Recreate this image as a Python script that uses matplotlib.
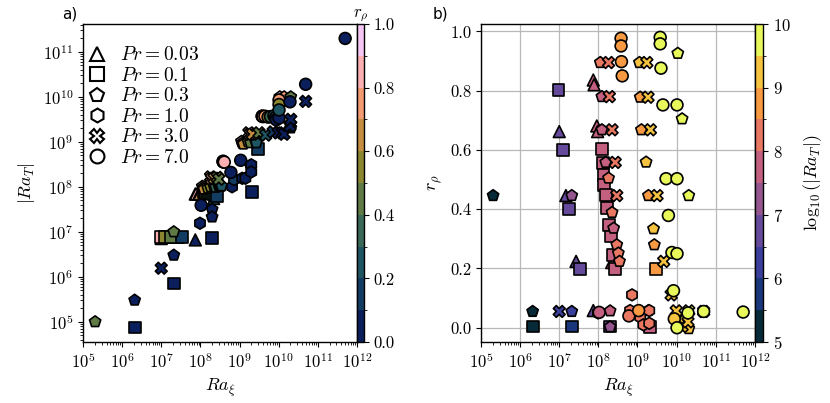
import numpy as np
import matplotlib
matplotlib.use("Agg")
import matplotlib.pyplot as plt
from matplotlib.colors import ListedColormap, BoundaryNorm
from matplotlib.lines import Line2D
from matplotlib.ticker import LogLocator, NullFormatter, FixedLocator

plt.rcParams['mathtext.fontset'] = 'cm'
plt.rcParams['font.family'] = 'serif'
plt.rcParams['font.serif'] = ['cmr10', 'DejaVu Serif']
plt.rcParams['axes.formatter.use_mathtext'] = True
plt.rcParams['axes.unicode_minus'] = False

# data: log10(Ra_xi), r_rho, log10(|Ra_T|) for each Prandtl number
pr_labels = ['0.03', '0.1', '0.3', '1.0', '3.0', '7.0']
pr_markers = ['^', 's', 'p', 'h', 'X', 'o']

# Pr = 0.03
lx_003 = [7.00, 7.17, 7.43, 7.87, 7.87, 7.89, 7.96, 7.98, 8.34]
r_003 = [0.662, 0.446, 0.224, 0.058, 0.836, 0.820, 0.681, 0.662, 0.220]
lt_003 = [6.85, 6.88, 6.88, 6.82, 7.84, 7.84, 7.84, 7.84, 7.74]

# Pr = 0.1
lx_01 = [6.32, 7.32, 8.30, 9.31, 6.98, 7.09, 7.25, 7.53, 8.09, 8.11, 8.13,
         8.15, 8.20, 8.22, 8.28, 8.33, 8.38, 8.42, 9.48]
r_01 = [0.004, 0.004, 0.004, 0.002, 0.803, 0.600, 0.400, 0.199, 0.604, 0.555,
        0.516, 0.482, 0.449, 0.404, 0.347, 0.308, 0.246, 0.198, 0.198]
lt_01 = [4.87, 5.85, 6.87, 7.88, 6.88, 6.88, 6.88, 6.88, 7.88, 7.88, 7.87,
         7.87, 7.87, 7.86, 7.85, 7.84, 7.82, 7.80, 8.84]

# Pr = 0.3
lx_03 = [5.31, 6.32, 7.32, 7.32, 8.30, 8.30, 8.05, 8.09, 8.09, 8.19, 8.26,
         8.35, 8.39, 8.47, 8.51, 8.54, 9.28, 9.05, 9.07, 9.10, 9.22, 9.28,
         9.41, 9.43, 10.03, 10.14, 10.31, 10.31]
r_03 = [0.446, 0.055, 0.055, 0.446, 0.057, 0.003, 0.895, 0.780, 0.668, 0.558,
        0.505, 0.389, 0.336, 0.280, 0.252, 0.224, 0.058, 0.895, 0.778, 0.668,
        0.559, 0.446, 0.334, 0.280, 0.926, 0.705, 0.446, -0.003]
lt_03 = [5.00, 5.48, 6.48, 7.00, 7.50, 7.33, 8.01, 7.99, 7.95, 7.97, 8.00,
         8.00, 7.99, 8.02, 8.01, 8.02, 8.47, 9.01, 8.97, 8.95, 9.00, 8.98,
         9.01, 8.98, 10.00, 10.00, 10.00, 9.31]

# Pr = 1.0
lx_1 = [7.99, 8.81, 8.86, 9.07, 9.15, 9.30, 9.30]
r_1 = [0.050, 0.058, 0.111, 0.036, 0.010, 0.058, 0.015]
lt_1 = [7.19, 8.00, 8.16, 8.19, 8.19, 8.49, 8.33]

# Pr = 3.0
lx_3 = [7.00, 8.26, 8.28, 8.35, 8.43, 8.47, 9.24, 9.27, 9.33, 9.50, 9.67,
        9.86, 9.99, 10.09, 10.14, 10.29, 10.31, 10.69]
r_3 = [0.055, 0.895, 0.780, 0.668, 0.558, 0.446, 0.895, 0.778, 0.668, 0.446,
       0.224, 0.111, 0.057, 0.025, 0.004, 0.020, 0.057, 0.055]
lt_3 = [6.19, 8.22, 8.18, 8.19, 8.21, 8.17, 9.20, 9.17, 9.17, 9.20, 9.15,
        9.22, 9.20, 9.20, 9.17, 9.35, 9.50, 9.90]

# Pr = 7.0
lx_7 = [8.02, 8.58, 8.58, 8.59, 8.61, 8.78, 9.03, 9.58, 9.58, 9.60, 9.65,
        9.73, 9.79, 9.88, 9.92, 9.94, 10.01, 10.01, 10.01, 10.01, 10.29,
        10.69, 11.70]
r_7 = [0.052, 0.977, 0.951, 0.898, 0.850, 0.040, 0.058, 0.980, 0.958, 0.876,
       0.752, 0.503, 0.379, 0.254, 0.125, 0.030, 0.000, 0.752, 0.503, 0.250,
       0.050, 0.055, 0.053]
lt_7 = [7.59, 8.57, 8.56, 8.55, 8.55, 8.32, 8.59, 9.57, 9.57, 9.56, 9.57,
        9.55, 9.56, 9.58, 9.54, 9.49, 9.53, 9.93, 9.83, 9.71, 9.89, 10.28,
        11.30]

groups = [(lx_003, r_003, lt_003), (lx_01, r_01, lt_01), (lx_03, r_03, lt_03),
          (lx_1, r_1, lt_1), (lx_3, r_3, lt_3), (lx_7, r_7, lt_7)]

# discrete colormaps
batlow_cols = ['#0b1f5c', '#133c62', '#1d5563', '#3a6a57', '#5f7a45',
               '#8b862f', '#c48d40', '#f29b72', '#fab0b2', '#f5c6f3']
thermal_cols = ['#062a38', '#19377a', '#3a3f9c', '#654a9c', '#95568f',
                '#c3607f', '#e97862', '#f89a42', '#f6c341', '#e8f85b']
cmap_r = ListedColormap(batlow_cols)
norm_r = BoundaryNorm(np.linspace(0, 1, 11), 10)
cmap_t = ListedColormap(thermal_cols)
norm_t = BoundaryNorm(np.linspace(5, 10, 11), 10)

fig = plt.figure(figsize=(8.3, 4.03), dpi=100)
ax1 = fig.add_axes([0.100, 0.1514, 0.330, 0.789])
cax1 = fig.add_axes([0.4301, 0.1514, 0.0084, 0.789])
ax2 = fig.add_axes([0.5795, 0.1514, 0.330, 0.789])
cax2 = fig.add_axes([0.9096, 0.1514, 0.0096, 0.789])

ms = 72
for (lx, r, lt), m in zip(groups, pr_markers):
    x = 10.0 ** np.array(lx)
    t = 10.0 ** np.array(lt)
    sc1 = ax1.scatter(x, t, c=r, cmap=cmap_r, norm=norm_r, marker=m, s=ms,
                      edgecolors='black', linewidths=1.2, zorder=3)
    sc2 = ax2.scatter(x, r, c=lt, cmap=cmap_t, norm=norm_t, marker=m, s=ms,
                      edgecolors='black', linewidths=1.2, zorder=3)

xdecades = 10.0 ** np.arange(5, 13)
for ax in (ax1, ax2):
    ax.set_xscale('log')
    ax.set_xlim(1e5, 1e12)
    ax.xaxis.set_major_locator(FixedLocator(xdecades))
    ax.xaxis.set_minor_locator(LogLocator(base=10, subs=np.arange(2, 10), numticks=20))
    ax.xaxis.set_minor_formatter(NullFormatter())
    ax.tick_params(labelsize=12)
    ax.set_xlabel(r'$Ra_\xi$', fontsize=13)
    for s in ax.spines.values():
        s.set_linewidth(1.0)

ax1.set_yscale('log')
ax1.set_ylim(10 ** 4.55, 10 ** 11.62)
ax1.yaxis.set_major_locator(FixedLocator(10.0 ** np.arange(5, 12)))
ax1.yaxis.set_minor_locator(LogLocator(base=10, subs=np.arange(2, 10), numticks=20))
ax1.yaxis.set_minor_formatter(NullFormatter())
ax1.set_ylabel(r'$|Ra_T|$', fontsize=13)

ax2.set_ylim(-0.048, 1.025)
ax2.yaxis.set_major_locator(FixedLocator([0.0, 0.2, 0.4, 0.6, 0.8, 1.0]))
ax2.yaxis.set_major_formatter(plt.FuncFormatter(lambda v, p: f'{v:.1f}'))
ax2.grid(True, which='major', color='#b8b8b8', linewidth=0.9, zorder=0)
ax2.set_axisbelow(True)
ax2.set_ylabel(r'$r_\rho$', fontsize=13)

# legend
handles = [Line2D([], [], marker=m, linestyle='none', markersize=10,
                  markerfacecolor='white', markeredgecolor='black',
                  markeredgewidth=1.5) for m in pr_markers]
labels = [rf'$Pr = {p}$' for p in pr_labels]
ax1.legend(handles, labels, loc='upper left', bbox_to_anchor=(0.0, 0.942),
           frameon=False, fontsize=14, labelspacing=0.13, handlelength=1.0,
           handletextpad=0.7, borderaxespad=0.0, borderpad=0.2)

cb1 = fig.colorbar(sc1, cax=cax1, ticks=[0.0, 0.2, 0.4, 0.6, 0.8, 1.0])
cb1.ax.set_yticks([0.1, 0.3, 0.5, 0.7, 0.9], minor=True)
cb1.ax.yaxis.set_major_formatter(plt.FuncFormatter(lambda v, p: f'{v:.1f}'))
cb1.ax.tick_params(labelsize=12)
cb1.ax.set_title(r'$r_\rho$', fontsize=12, pad=2)
cb1.outline.set_linewidth(1.0)

cb2 = fig.colorbar(sc2, cax=cax2, ticks=[5, 6, 7, 8, 9, 10])
cb2.ax.set_yticks([5.5, 6.5, 7.5, 8.5, 9.5], minor=True)
cb2.ax.tick_params(labelsize=12)
cb2.set_label(r'$\log_{10}(|Ra_T|)$', fontsize=13, labelpad=8)
cb2.outline.set_linewidth(1.0)

fig.text(0.075, 0.965, 'a)', fontsize=11, family='DejaVu Sans', va='center')
fig.text(0.521, 0.965, 'b)', fontsize=11, family='DejaVu Sans', va='center')

fig.savefig('out.png', dpi=100)
